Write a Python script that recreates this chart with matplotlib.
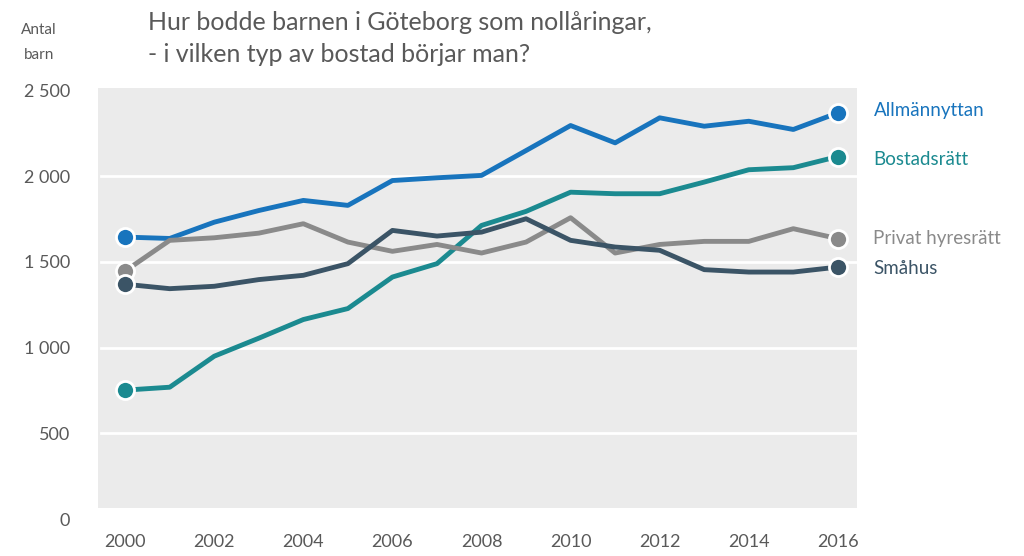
import matplotlib.pyplot as plt
from matplotlib.patches import Rectangle
from matplotlib.ticker import FuncFormatter

plt.rcParams['font.family'] = ['Lato', 'DejaVu Sans']

years = list(range(2000, 2017))
allmannyttan = [1645, 1637, 1732, 1800, 1859, 1830, 1975, 1991, 2005, 2150,
                2296, 2195, 2341, 2292, 2321, 2273, 2370]
bostadsratt = [752, 769, 950, 1055, 1164, 1228, 1412, 1490, 1713, 1795,
               1907, 1898, 1898, 1966, 2038, 2050, 2115]
privat = [1447, 1626, 1641, 1668, 1723, 1616, 1562, 1602, 1552, 1616,
          1758, 1552, 1602, 1620, 1620, 1694, 1636]
smahus = [1370, 1344, 1358, 1397, 1422, 1490, 1684, 1651, 1674, 1752,
          1626, 1587, 1568, 1455, 1441, 1441, 1470]

series = [
    ("Allmännyttan", allmannyttan, "#1874bd"),
    ("Bostadsrätt", bostadsratt, "#1b8a90"),
    ("Privat hyresrätt", privat, "#8a8a8a"),
    ("Småhus", smahus, "#3b5466"),
]
label_y = [2385, 2100, 1635, 1460]

fig = plt.figure(figsize=(10.24, 5.56), dpi=100)
ax = fig.add_axes([98 / 1024, 37 / 556, (857 - 98) / 1024, (519 - 88) / 556])
ax.set_xlim(1999.39, 2016.43)
ax.set_ylim(0, 2515)
ax.set_facecolor("none")
ax.add_patch(Rectangle((1999.39, 62), 2016.43 - 1999.39, 2515 - 62,
                       facecolor="#ebebeb", edgecolor="none", zorder=0))
for yv in [500, 1000, 1500, 2000]:
    ax.plot([1999.45, 2016.43], [yv, yv], color="white", lw=2, zorder=1)

for (name, vals, col), ly in zip(series, label_y):
    ax.plot(years, vals, color=col, lw=3.5, zorder=3, solid_joinstyle="round")
    ax.plot([years[0], years[-1]], [vals[0], vals[-1]], "o", color=col,
            markersize=13, markeredgecolor="white", markeredgewidth=2, zorder=4)
    ax.text(2016.8, ly, name, color=col, fontsize=13.5, va="center", ha="left",
            clip_on=False)

for s in ax.spines.values():
    s.set_visible(False)
ax.set_xticks(range(2000, 2017, 2))
ax.set_yticks(range(0, 2501, 500))
ax.yaxis.set_major_formatter(FuncFormatter(lambda v, p: f"{int(v):,}".replace(",", " ")))
ax.tick_params(length=0, labelsize=13, labelcolor="#595959")
ax.tick_params(axis="y", pad=20)
ax.tick_params(axis="x", pad=11)

fig.text(148 / 1024, 1 - 22 / 556, "Hur bodde barnen i Göteborg som nollåringar,",
         fontsize=18, color="#595959", va="center")
fig.text(148 / 1024, 1 - 54 / 556, "- i vilken typ av bostad börjar man?",
         fontsize=18, color="#595959", va="center")
fig.text(39 / 1024, 1 - 30 / 556, "Antal", fontsize=11, color="#595959",
         ha="center", va="center")
fig.text(39 / 1024, 1 - 55 / 556, "barn", fontsize=11, color="#595959",
         ha="center", va="center")

fig.savefig("out.png", dpi=100)
